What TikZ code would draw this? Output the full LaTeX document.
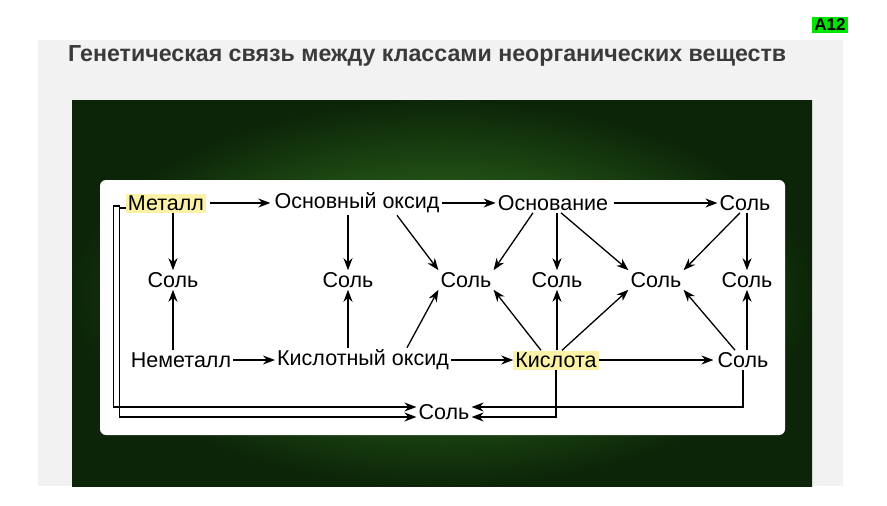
\documentclass[tikz,border=0pt]{standalone}
\usepackage{fontspec}
\setmainfont{Liberation Sans}
\usetikzlibrary{arrows.meta}
\definecolor{panel}{HTML}{F2F2F2}
\definecolor{gin}{HTML}{3C8A26}
\definecolor{gout}{HTML}{0C2508}
\definecolor{hl}{HTML}{FBF2A8}
\definecolor{ttl}{HTML}{3A3A3A}
\tikzset{
  t/.style={font=\fontsize{21.5}{23}\selectfont, inner sep=2pt},
  hlt/.style={t, fill=hl},
  ar/.style={-{Stealth[length=12pt,width=9pt]}, line width=1.3pt},
}
\begin{document}
\begin{tikzpicture}[x=1pt,y=-1pt]
\useasboundingbox (0,0) rectangle (887,506);
\fill[white] (0,0) rectangle (887,506);
\fill[panel] (38,40) rectangle (843,486);
\node[fill=green!90!black, font=\bfseries\fontsize{17}{18}\selectfont\rmfamily, inner sep=2pt] (a12) at (830,25) {A12};
\node[font=\bfseries\fontsize{23.2}{24}\selectfont, text=ttl, anchor=west, inner sep=0pt] (title) at (68,56) {Генетическая связь между классами неорганических веществ};
\shade[inner color=gin, outer color=gout] (72,100) rectangle (812,486);
\fill[white, rounded corners=6pt] (100,180) rectangle (785,435);
% nodes
\node[hlt] (met) at (166,203) {Металл};
\node[t] (oo) at (357,203) {Основный оксид};
\node[t] (osn) at (553,203) {Основание};
\node[t] (s1) at (745,203) {Соль};
\node[t] (r1) at (173,280) {Соль};
\node[t] (r2) at (348,280) {Соль};
\node[t] (r3) at (466,280) {Соль};
\node[t] (r4) at (557,280) {Соль};
\node[t] (r5) at (656,280) {Соль};
\node[t] (r6) at (747,280) {Соль};
\node[t] (nem) at (181,360) {Неметалл};
\node[t] (ko) at (363,360) {Кислотный оксид};
\node[hlt] (kis) at (556,360) {Кислота};
\node[t] (s3) at (743,360) {Соль};
\node[t] (sb) at (444,412) {Соль};
% horizontal
\draw[ar] ([xshift=4pt]met.east) -- ([xshift=-2pt]oo.west);
\draw[ar] (oo) -- (osn);
\draw[ar] ([xshift=4pt]osn.east) -- (s1);
\draw[ar] (nem) -- (ko);
\draw[ar] (ko) -- (kis);
\draw[ar] (kis) -- ([xshift=-2pt]s3.west);
% verticals
\draw[ar] (met.south -| r1) -- (r1);
\draw[ar] (nem.north -| r1) -- (r1);
\draw[ar] (oo.south -| r2) -- (r2);
\draw[ar] (ko.north -| r2) -- (r2);
\draw[ar] (osn.south -| r4) -- (r4);
\draw[ar] (kis.north -| r4) -- (r4);
\draw[ar] (s1.south -| r6) -- (r6);
\draw[ar] (s3.north -| r6) -- (r6);
% diagonals
\draw[ar] ([xshift=40pt]oo.south) -- (r3.north west);
\draw[ar] ([xshift=44pt]ko.north) -- (r3.south west);
\draw[ar] ([xshift=-20pt]osn.south) -- (r3.north east);
\draw[ar] ([xshift=8pt]osn.south) -- (r5.north west);
\draw[ar] ([xshift=-15pt]kis.north) -- (r3.south east);
\draw[ar] ([xshift=6pt]kis.north) -- (r5.south west);
\draw[ar] ([xshift=-5pt]s1.south) -- (r5.north east);
\draw[ar] ([xshift=-8pt]s3.north) -- (r5.south east);
% bottom lines
\draw[ar] ([yshift=-5pt]met.west) -- ++(-6,0) |- ([yshift=-5pt]sb.west);
\draw[ar] ([yshift=-5pt]met.west) ++(-6,-2) -- ++(-6,0) |- ([yshift=5pt]sb.west);
\draw[ar] (kis.south) |- ([yshift=-5pt]sb.east);
\draw[ar] (s3.south) |- ([yshift=5pt]sb.east);
\end{tikzpicture}
\end{document}
